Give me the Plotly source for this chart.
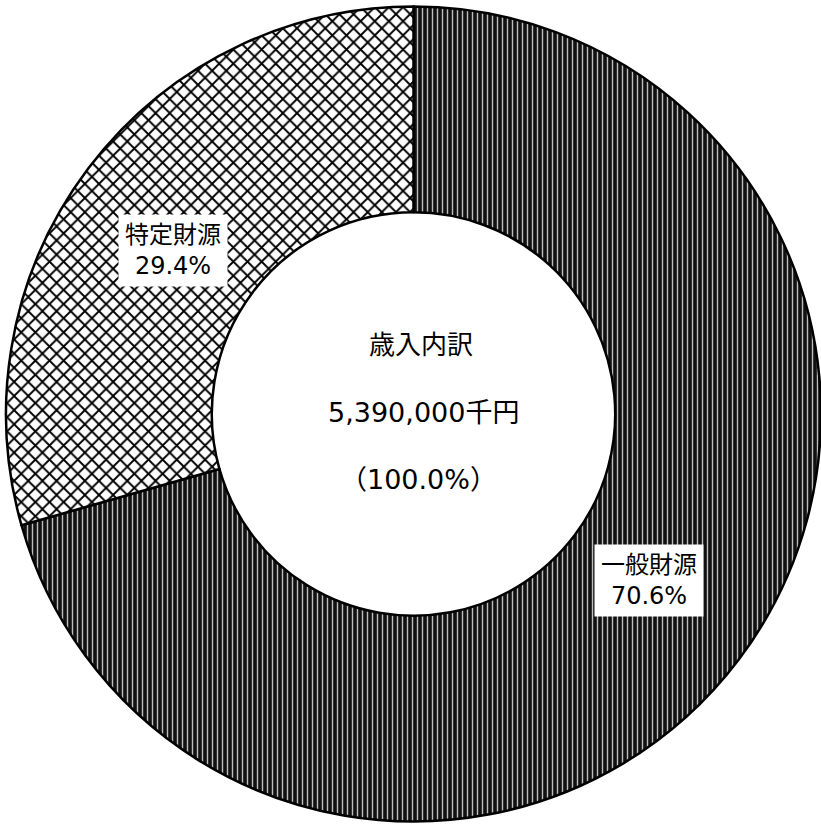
import plotly.graph_objects as go

# Data
labels = ["一般財源", "特定財源"]
percents = [70.6, 29.4]
title_text = "歳入内訳"
total_text = "5,390,000千円"
total_pct = "（100.0%）"

W, H = 821, 826
FONT = "DejaVu Sans, Noto Sans CJK JP, sans-serif"

fig = go.Figure()
fig.add_trace(go.Pie(
    labels=labels,
    values=percents,
    sort=False,
    direction="clockwise",
    rotation=0,
    hole=0.495,
    textinfo="none",
    showlegend=False,
    domain=dict(x=[6 / W, 1.0], y=[1 - 822 / H, 1 - 6 / H]),
    marker=dict(
        colors=["#111111", "white"],
        line=dict(color="black", width=2.5),
        pattern=dict(
            shape=["|", "x"],
            bgcolor=["#111111", "white"],
            fgcolor=["#bdbdbd", "black"],
            size=[5, 10],
            solidity=[0.28, 0.34],
            fillmode="replace",
        ),
    ),
))

def px(x, y):
    return x / W, 1 - y / H

annos = []
# slice labels with white boxes
for lab, pct, (cx, cy) in zip(labels, percents, [(649, 580), (173, 250)]):
    ax, ay = px(cx, cy)
    annos.append(dict(
        x=ax, y=ay, xref="paper", yref="paper", xanchor="center", yanchor="middle",
        text=f"{lab}<br>{pct:.1f}%", showarrow=False,
        font=dict(family=FONT, size=24, color="black"),
        bgcolor="white", borderpad=6,
    ))
# center texts
for t, (cx, cy), sz in zip([title_text, total_text, total_pct],
                           [(421, 345), (424, 412), (418, 480)], [26, 27, 27]):
    ax, ay = px(cx, cy)
    annos.append(dict(
        x=ax, y=ay, xref="paper", yref="paper", xanchor="center", yanchor="middle",
        text=t, showarrow=False,
        font=dict(family=FONT, size=sz, color="black"),
    ))

fig.update_layout(
    width=W, height=H,
    margin=dict(l=0, r=0, t=0, b=0),
    paper_bgcolor="white",
    plot_bgcolor="white",
    annotations=annos,
)

fig.write_html("out.html")
